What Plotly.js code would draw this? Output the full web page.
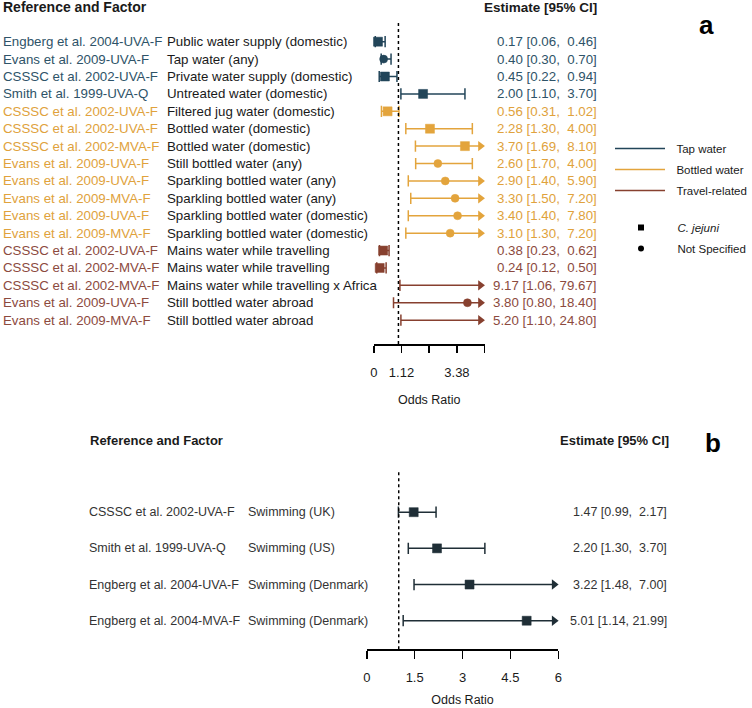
<!DOCTYPE html>
<html>
<head>
<meta charset="utf-8">
<script src="https://cdn.plot.ly/plotly-3.0.1.min.js"></script>
<style>
  body { margin: 0; padding: 0; background: #fff; }
  #myDiv { width: 752px; height: 708px; }
</style>
</head>
<body>
<div id="myDiv"></div>
<script>
// panel a - water related factors
var studyA = [
    'Engberg et al. 2004-UVA-F', 'Evans et al. 2009-UVA-F', 'CSSSC et al. 2002-UVA-F', 'Smith et al. 1999-UVA-Q',
    'CSSSC et al. 2002-UVA-F', 'CSSSC et al. 2002-UVA-F', 'CSSSC et al. 2002-MVA-F', 'Evans et al. 2009-UVA-F',
    'Evans et al. 2009-UVA-F', 'Evans et al. 2009-MVA-F', 'Evans et al. 2009-UVA-F', 'Evans et al. 2009-MVA-F',
    'CSSSC et al. 2002-UVA-F', 'CSSSC et al. 2002-MVA-F', 'CSSSC et al. 2002-MVA-F', 'Evans et al. 2009-UVA-F',
    'Evans et al. 2009-MVA-F'
];
var factorA = [
    'Public water supply (domestic)', 'Tap water (any)', 'Private water supply (domestic)', 'Untreated water (domestic)',
    'Filtered jug water (domestic)', 'Bottled water (domestic)', 'Bottled water (domestic)', 'Still bottled water (any)',
    'Sparkling bottled water (any)', 'Sparkling bottled water (any)', 'Sparkling bottled water (domestic)', 'Sparkling bottled water (domestic)',
    'Mains water while travelling', 'Mains water while travelling', 'Mains water while travelling x Africa', 'Still bottled water abroad',
    'Still bottled water abroad'
];
var estA = [0.17, 0.40, 0.45, 2.00, 0.56, 2.28, 3.70, 2.60, 2.90, 3.30, 3.40, 3.10, 0.38, 0.24, 9.17, 3.80, 5.20];
var loA  = [0.06, 0.30, 0.22, 1.10, 0.31, 1.30, 1.69, 1.70, 1.40, 1.50, 1.40, 1.30, 0.23, 0.12, 1.06, 0.80, 1.10];
var hiA  = [0.46, 0.70, 0.94, 3.70, 1.02, 4.00, 8.10, 4.00, 5.90, 7.20, 7.80, 7.20, 0.62, 0.50, 79.67, 18.40, 24.80];
var groupA = ['tap', 'tap', 'tap', 'tap', 'bottled', 'bottled', 'bottled', 'bottled', 'bottled', 'bottled', 'bottled', 'bottled',
    'travel', 'travel', 'travel', 'travel', 'travel'];
var typeA = ['cj', 'ns', 'cj', 'cj', 'cj', 'cj', 'cj', 'ns', 'ns', 'ns', 'ns', 'ns', 'cj', 'cj', 'cj', 'ns', 'ns'];

// panel b - swimming
var studyB = ['CSSSC et al. 2002-UVA-F', 'Smith et al. 1999-UVA-Q', 'Engberg et al. 2004-UVA-F', 'Engberg et al. 2004-MVA-F'];
var factorB = ['Swimming (UK)', 'Swimming (US)', 'Swimming (Denmark)', 'Swimming (Denmark)'];
var estB = [1.47, 2.20, 3.22, 5.01];
var loB  = [0.99, 1.30, 1.48, 1.14];
var hiB  = [2.17, 3.70, 7.00, 21.99];

var groupKeys = ['tap', 'bottled', 'travel'];
var groupLabels = ['Tap water', 'Bottled water', 'Travel-related'];
var groupColors = ['#224559', '#e3a43c', '#87402f'];
var groupTextColors = ['#2e5368', '#e0a23c', '#8c4a3e'];
var colorB = '#1f2e36';

var tickValsA = [0, 1.125, 2.25, 3.375, 4.5];
var tickTextA = ['0', '1.12', '', '3.38', ''];
var tickValsB = [0, 1.5, 3, 4.5, 6];
var tickTextB = ['0', '1.5', '3', '4.5', '6'];

var W = 752, H = 708;
var FONT = 'Liberation Sans, Arial, sans-serif';
var NB = '\u00a0\u00a0';

function fmt(est, lo, hi){
    var h = hi.toFixed(2);
    var pad = hi < 10 ? '\u00a0\u00a0' : '\u00a0';
    return est.toFixed(2) + ' [' + lo.toFixed(2) + ',' + pad + h + ']';
}

// CI lines, caps, arrows and points for one set of rows
function ciTraces(idx, est, lo, hi, type, color, xmax, arrowBack, over, xa, ya, legendName){
    var lx = [], ly = [], cx = [], cy = [], ax = [], ay = [], px = [], py = [], ps = [], pz = [];
    idx.forEach(function(i){
        var row = i + 1;
        var clipped = hi[i] > xmax;
        lx.push(lo[i], clipped ? xmax - arrowBack : hi[i], null);
        ly.push(row, row, null);
        cx.push(lo[i]); cy.push(row);
        if(clipped){ ax.push(xmax - arrowBack); ay.push(row); }
        else { cx.push(hi[i]); cy.push(row); }
        px.push(est[i] > xmax ? xmax + over : est[i]);
        py.push(row);
        ps.push(type[i] === 'ns' ? 'circle' : 'square');
        pz.push(type[i] === 'ns' ? 8 : 9);
    });
    var lines = {
        x: lx, y: ly, xaxis: xa, yaxis: ya, mode: 'lines', hoverinfo: 'skip',
        line: {color: color, width: 1.5},
        name: legendName ? NB + legendName : '', showlegend: !!legendName, legendgroup: legendName || 'none'
    };
    var caps = {
        x: cx, y: cy, xaxis: xa, yaxis: ya, mode: 'markers', hoverinfo: 'skip', showlegend: false,
        marker: {symbol: 'line-ns', size: 8, opacity: 1, line: {color: color, width: 1.5}}
    };
    var arrows = {
        x: ax, y: ay, xaxis: xa, yaxis: ya, mode: 'markers', hoverinfo: 'skip', showlegend: false, cliponaxis: false,
        marker: {symbol: 'triangle-right', size: 9, opacity: 1, color: color, line: {width: 0}}
    };
    var points = {
        x: px, y: py, xaxis: xa, yaxis: ya, mode: 'markers', showlegend: false, cliponaxis: false,
        marker: {symbol: ps, size: pz, opacity: 1, color: color, line: {color: color, width: 0.5}}
    };
    return [lines, caps, arrows, points];
}

var data = [];
groupKeys.forEach(function(g, k){
    var idx = [];
    groupA.forEach(function(v, i){ if(v === g) idx.push(i); });
    data = data.concat(ciTraces(idx, estA, loA, hiA, typeA, groupColors[k], 4.5, 0.17, 0.15, 'x', 'y', groupLabels[k]));
});
data = data.concat(ciTraces([0, 1, 2, 3], estB, loB, hiB, ['cj', 'cj', 'cj', 'cj'], colorB, 6, 0.13, 0.15, 'x2', 'y2', null));

// marker shape legend (second legend box)
data.push({x: [null], y: [null], mode: 'markers', name: NB + '<i>C. jejuni</i>', legend: 'legend2', legendgroup: 'cj',
    marker: {symbol: 'square', size: 6, color: '#000'}});
data.push({x: [null], y: [null], mode: 'markers', name: NB + 'Not Specified', legend: 'legend2', legendgroup: 'ns',
    marker: {symbol: 'circle', size: 6, color: '#000'}});

var annotations = [];
function txt(x, y, yref, s, anchor, color, size, bold){
    annotations.push({
        xref: 'paper', yref: yref, x: x / W, y: y, text: bold ? '<b>' + s + '</b>' : s,
        xanchor: anchor, yanchor: 'middle', showarrow: false, borderpad: 0,
        font: {family: FONT, size: size, color: color}
    });
}

studyA.forEach(function(s, i){
    var k = groupKeys.indexOf(groupA[i]);
    txt(2, i + 1, 'y', s, 'left', groupTextColors[k], 13.3);
    txt(166, i + 1, 'y', factorA[i], 'left', '#1a1a1a', 13.3);
    txt(599, i + 1, 'y', fmt(estA[i], loA[i], hiA[i]), 'right', groupTextColors[k], 13.3);
});
studyB.forEach(function(s, i){
    txt(88, i + 1, 'y2', s, 'left', '#333', 12.5);
    txt(247, i + 1, 'y2', factorB[i], 'left', '#333', 12.5);
    txt(669, i + 1, 'y2', fmt(estB[i], loB[i], hiB[i]), 'right', '#333', 12.5);
});
txt(2, 1 - 7 / H, 'paper', 'Reference and Factor', 'left', '#1a1a1a', 14, true);
txt(599, 1 - 7 / H, 'paper', 'Estimate [95% CI]', 'right', '#1a1a1a', 13.5, true);
txt(89, 1 - 440 / H, 'paper', 'Reference and Factor', 'left', '#1a1a1a', 13, true);
txt(671, 1 - 440 / H, 'paper', 'Estimate [95% CI]', 'right', '#1a1a1a', 13, true);
txt(699, 1 - 25 / H, 'paper', 'a', 'left', '#000', 26, true);
txt(705, 1 - 443 / H, 'paper', 'b', 'left', '#000', 26, true);

function xAxis(domain, range, vals, text, ticklen, anchor, labelGap, titleGap){
    return {
        domain: domain, range: range, anchor: anchor, fixedrange: true,
        tickvals: vals, ticktext: text, ticks: 'outside', ticklen: ticklen, tickwidth: 1.5, tickcolor: '#000',
        ticklabelstandoff: labelGap,
        showline: true, linewidth: 1.5, linecolor: '#000', showgrid: false, zeroline: false,
        tickfont: {family: FONT, size: 13, color: '#1a1a1a'},
        title: {text: 'Odds Ratio', standoff: titleGap, font: {family: FONT, size: 12.5, color: '#1a1a1a'}}
    };
}
function yAxis(domain, range){
    return {domain: domain, range: range, visible: false, fixedrange: true, showgrid: false, zeroline: false};
}

var legendBase = {
    xanchor: 'left', yanchor: 'top', traceorder: 'grouped', tracegroupgap: 2, itemwidth: 50,
    font: {family: FONT, size: 11.5, color: '#1a1a1a'}, bgcolor: 'rgba(0,0,0,0)'
};

var layout = {
    width: W, height: H,
    margin: {l: 0, r: 0, t: 0, b: 0},
    paper_bgcolor: '#fff', plot_bgcolor: 'rgba(0,0,0,0)',
    font: {family: FONT},
    xaxis: xAxis([374.3 / W, 485.3 / W], [0, 4.5], tickValsA, tickTextA, 7, 'y', 9, 16),
    yaxis: yAxis([1 - 344 / H, 1 - 24.3 / H], [18.37, 0]),
    xaxis2: xAxis([367.3 / W, 559 / W], [0, 6], tickValsB, tickTextB, 8, 'y2', 8, 11),
    yaxis2: yAxis([1 - 649.3 / H, 1 - 476 / H], [4.79, 0]),
    showlegend: true,
    legend: Object.assign({x: 611 / W, y: 1 - 134 / H}, legendBase),
    legend2: Object.assign({x: 611 / W, y: 1 - 213 / H}, legendBase),
    shapes: [
        {type: 'line', xref: 'x', yref: 'paper', x0: 1, x1: 1, y0: 1 - 344 / H, y1: 1 - 22 / H,
            line: {color: '#000', width: 1.5, dash: 'dot'}},
        {type: 'line', xref: 'x2', yref: 'paper', x0: 1, x1: 1, y0: 1 - 649.3 / H, y1: 1 - 472 / H,
            line: {color: '#000', width: 1.5, dash: 'dot'}}
    ],
    annotations: annotations
};

Plotly.newPlot('myDiv', data, layout, {displayModeBar: false, staticPlot: true});
</script>
</body>
</html>
